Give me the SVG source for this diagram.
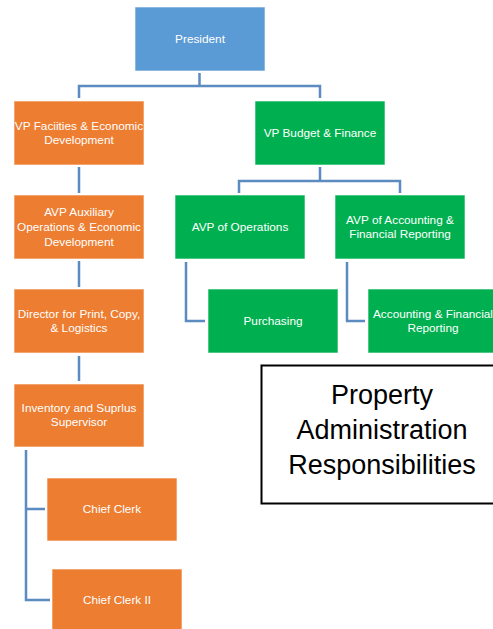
<svg xmlns="http://www.w3.org/2000/svg" width="493" height="629" viewBox="0 0 493 629">
<style>
.n{stroke:#ffffff;stroke-opacity:0.6;stroke-width:1}
.b{fill:#5B9BD5}
.o{fill:#ED7D31}
.g{fill:#00B050}
.t{fill:#ffffff;font-family:"Liberation Sans",Arial,sans-serif;font-size:11.8px;text-anchor:middle}
.c{fill:none;stroke:#4A7EBB;stroke-width:2.5;stroke-opacity:0.9}
.title{fill:#000;font-family:"Liberation Sans",Arial,sans-serif;font-size:27px;text-anchor:middle}
</style>
<rect width="493" height="629" fill="#ffffff"/>
<g id="connectors">
<path class="c" d="M199.5,73 V86 M79,98 V86 H320 V98"/>
<path class="c" d="M79,167 V193"/>
<path class="c" d="M320,167 V181 M239,193 V181 H400 V193"/>
<path class="c" d="M79,261 V287"/>
<path class="c" d="M186,262 V321 H205"/>
<path class="c" d="M347,262 V321 H365"/>
<path class="c" d="M79,356 V381"/>
<path class="c" d="M26,450 V600 H50 M26,509 H45"/>
</g>
<g id="president">
<rect class="n b" x="135" y="7" width="130" height="64"/>
<text class="t" x="200" y="43">President</text>
</g>
<g id="vp-facilities">
<rect class="n o" x="14" y="101" width="130" height="64"/>
<text class="t" x="79" y="130">VP Faciities &amp; Economic</text>
<text class="t" x="79" y="144">Development</text>
</g>
<g id="vp-budget">
<rect class="n g" x="255" y="101" width="130" height="64"/>
<text class="t" x="320" y="137">VP Budget &amp; Finance</text>
</g>
<g id="avp-auxiliary">
<rect class="n o" x="14" y="195" width="130" height="64"/>
<text class="t" x="79" y="216">AVP Auxiliary</text>
<text class="t" x="79" y="231">Operations &amp; Economic</text>
<text class="t" x="79" y="246">Development</text>
</g>
<g id="avp-operations">
<rect class="n g" x="175" y="195" width="130" height="64"/>
<text class="t" x="240" y="231">AVP of Operations</text>
</g>
<g id="avp-accounting">
<rect class="n g" x="335" y="195" width="130" height="64"/>
<text class="t" x="400" y="224">AVP of Accounting &amp;</text>
<text class="t" x="400" y="238">Financial Reporting</text>
</g>
<g id="director">
<rect class="n o" x="14" y="289" width="130" height="64"/>
<text class="t" x="79" y="318">Director for Print, Copy,</text>
<text class="t" x="79" y="332">&amp; Logistics</text>
</g>
<g id="purchasing">
<rect class="n g" x="208" y="289" width="130" height="64"/>
<text class="t" x="273" y="325">Purchasing</text>
</g>
<g id="accounting-financial">
<rect class="n g" x="368" y="289" width="130" height="64"/>
<text class="t" x="433" y="318">Accounting &amp; Financial</text>
<text class="t" x="433" y="332">Reporting</text>
</g>
<g id="inventory">
<rect class="n o" x="14" y="384" width="130" height="63"/>
<text class="t" x="79" y="412">Inventory and Suprlus</text>
<text class="t" x="79" y="426">Supervisor</text>
</g>
<g id="chief-clerk">
<rect class="n o" x="47" y="478" width="130" height="63"/>
<text class="t" x="112" y="513">Chief Clerk</text>
</g>
<g id="chief-clerk-ii">
<rect class="n o" x="52" y="569" width="130" height="64"/>
<text class="t" x="117" y="604">Chief Clerk II</text>
</g>
<g id="title-box">
<rect x="261.5" y="365.5" width="240" height="138" fill="#ffffff" stroke="#000000" stroke-width="2"/>
<text class="title" x="382" y="404">Property</text>
<text class="title" x="382" y="439">Administration</text>
<text class="title" x="382" y="474">Responsibilities</text>
</g>
</svg>
